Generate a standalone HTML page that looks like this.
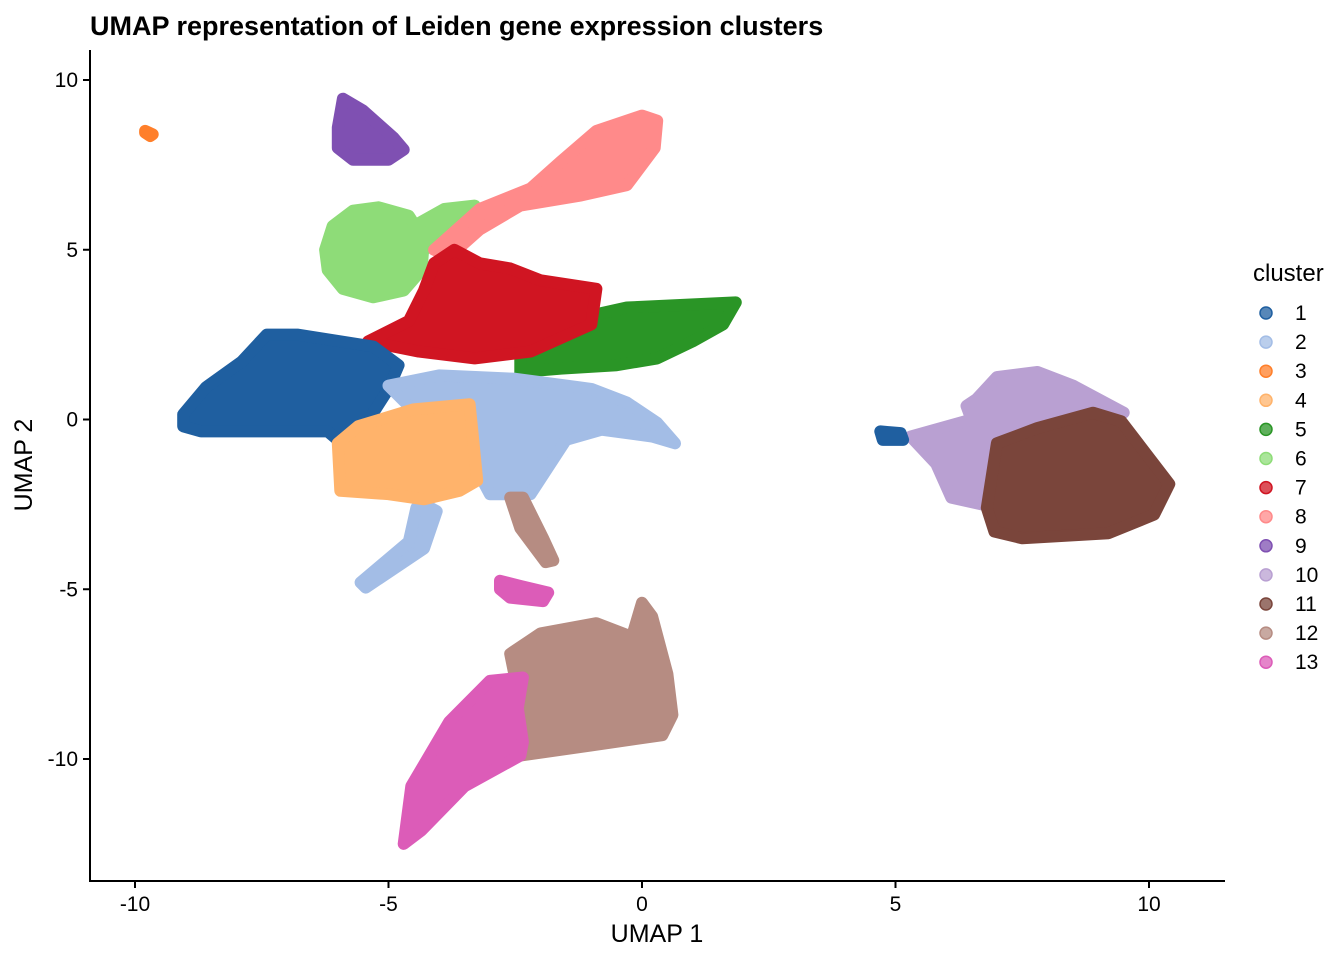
<!DOCTYPE html>
<html><head><meta charset="utf-8"><style>
html,body{margin:0;padding:0;background:#fff;}
svg{display:block;font-family:"Liberation Sans",Arial,sans-serif;}
</style></head><body>
<svg id="chart" width="1344" height="960" viewBox="0 0 1344 960">
<text x="90" y="35" font-size="27" font-weight="bold" fill="#000">UMAP representation of Leiden gene expression clusters</text>
<g id="clusters"></g>
<g id="axes"></g>
<g id="legend"></g>
</svg>
<script>
const clusterNames = ["1","2","3","4","5","6","7","8","9","10","11","12","13"];
const clusterColors = ["#1f5fa0","#a3bde6","#ff7f2a","#ffb36b","#2a9526","#8edc78","#d01522","#ff8a8a","#7f50b2","#b9a0d2","#7a453b","#b68c82","#dc5cb8"];
const xTicks = [-10,-5,0,5,10];
const yTicks = [10,5,0,-5,-10];
// cluster outlines in UMAP data coordinates; [clusterIndex, polygon]
const regions = [
 [5, [[-6.25,5.0],[-6.1,5.7],[-5.7,6.15],[-5.2,6.25],[-4.6,6.0],[-4.3,5.3],[-4.35,4.4],[-4.7,3.8],[-5.3,3.6],[-5.9,3.85],[-6.2,4.4]]],
 [5, [[-4.5,5.7],[-3.9,6.2],[-3.3,6.3],[-3.5,5.7],[-4.3,5.0]]],
 [7, [[-4.1,5.0],[-3.2,6.2],[-2.2,6.8],[-1.6,7.6],[-0.9,8.5],[0.0,8.95],[0.3,8.8],[0.25,8.0],[-0.3,6.9],[-1.2,6.6],[-2.4,6.3],[-3.2,5.6],[-3.8,4.8]]],
 [8, [[-6.0,8.6],[-5.9,9.45],[-5.5,9.1],[-4.9,8.3],[-4.7,7.95],[-5.0,7.65],[-5.7,7.65],[-6.0,8.0]]],
 [2, [[-9.8,8.5],[-9.65,8.4],[-9.7,8.35],[-9.8,8.45]]],
 [4, [[-2.4,2.0],[-1.2,3.0],[-0.3,3.3],[1.85,3.45],[1.6,2.8],[1.0,2.3],[0.3,1.8],[-0.5,1.6],[-1.6,1.5],[-2.4,1.4]]],
 [6, [[-4.3,3.8],[-4.1,4.6],[-3.7,5.0],[-3.2,4.6],[-2.6,4.45],[-2.0,4.1],[-0.9,3.85],[-1.0,2.8],[-2.2,2.0],[-3.3,1.8],[-4.4,2.0],[-5.4,2.3],[-4.6,2.9]]],
 [0, [[-9.05,0.15],[-8.6,0.95],[-7.9,1.7],[-7.4,2.5],[-6.8,2.5],[-5.3,2.15],[-4.8,1.6],[-5.0,0.9],[-5.3,0.2],[-5.6,-0.6],[-6.0,-0.6],[-6.2,-0.35],[-8.7,-0.35],[-9.05,-0.2]]],
 [1, [[-5.0,1.0],[-4.0,1.3],[-2.5,1.2],[-1.0,0.9],[-0.3,0.5],[0.3,-0.1],[0.65,-0.7],[0.2,-0.5],[-0.8,-0.3],[-1.5,-0.6],[-2.2,-2.2],[-3.0,-2.2],[-3.5,-0.8],[-3.9,0.2],[-4.6,0.4]]],
 [1, [[-4.3,-2.5],[-4.05,-2.7],[-4.3,-3.8],[-5.45,-4.95],[-5.55,-4.8],[-4.6,-3.6],[-4.45,-2.6]]],
 [3, [[-6.0,-0.7],[-5.6,-0.2],[-4.5,0.3],[-3.4,0.45],[-3.35,-0.3],[-3.25,-1.8],[-3.6,-2.1],[-4.3,-2.35],[-5.0,-2.2],[-5.95,-2.1]]],
 [11, [[-2.6,-2.3],[-2.35,-2.3],[-1.95,-3.5],[-1.75,-4.15],[-1.9,-4.2],[-2.4,-3.2]]],
 [11, [[-2.6,-6.9],[-2.0,-6.3],[-0.9,-6.0],[-0.2,-6.4],[0.0,-5.4],[0.2,-5.8],[0.5,-7.5],[0.6,-8.7],[0.4,-9.3],[-1.0,-9.6],[-2.4,-9.9],[-2.45,-8.0]]],
 [12, [[-4.7,-12.5],[-4.55,-10.8],[-3.8,-8.9],[-3.0,-7.7],[-2.35,-7.6],[-2.45,-8.5],[-2.35,-9.5],[-2.4,-9.9],[-3.5,-10.8],[-4.35,-12.1]]],
 [12, [[-2.8,-4.75],[-2.4,-4.9],[-1.85,-5.1],[-1.95,-5.35],[-2.6,-5.25],[-2.8,-5.0]]],
 [9, [[5.3,-0.5],[6.5,0.0],[6.4,0.4],[6.6,0.6],[7.0,1.25],[7.8,1.4],[8.5,1.0],[9.5,0.2],[8.0,-1.0],[6.7,-2.5],[6.1,-2.3],[5.8,-1.3]]],
 [10, [[6.8,-2.6],[7.0,-0.7],[7.8,-0.25],[8.9,0.2],[9.45,-0.05],[10.4,-1.9],[10.1,-2.8],[9.2,-3.35],[7.5,-3.5],[6.95,-3.3]]],
 [0, [[4.7,-0.35],[5.1,-0.4],[5.15,-0.6],[4.75,-0.6]]]
];
const X0=-10, X1=10, PX0=135, PX1=1149;
const Y0=10, Y1=-10, PY0=80, PY1=759;
function sx(v){return PX0+(v-X0)*(PX1-PX0)/(X1-X0);}
function sy(v){return PY0+(v-Y0)*(PY1-PY0)/(Y1-Y0);}
const NS="http://www.w3.org/2000/svg";
const gC=document.getElementById('clusters');
regions.forEach(r=>{
  const p=document.createElementNS(NS,'polygon');
  p.setAttribute('points',r[1].map(q=>sx(q[0]).toFixed(1)+','+sy(q[1]).toFixed(1)).join(' '));
  p.setAttribute('fill',clusterColors[r[0]]);
  p.setAttribute('stroke',clusterColors[r[0]]);
  p.setAttribute('stroke-width','12');
  p.setAttribute('stroke-linejoin','round');
  
  
  gC.appendChild(p);
});
const gA=document.getElementById('axes');
function add(parent,tag,attrs,text){const e=document.createElementNS(NS,tag);for(const k in attrs)e.setAttribute(k,attrs[k]);if(text!==undefined)e.textContent=text;parent.appendChild(e);return e;}
const xl=add(gA,'line',{x1:90,y1:881,x2:1225,y2:881,stroke:'#000','stroke-width':2});


const yl=add(gA,'line',{x1:90,y1:50,x2:90,y2:882,stroke:'#000','stroke-width':2});


xTicks.forEach(t=>{
  add(gA,'line',{x1:sx(t),y1:881,x2:sx(t),y2:888,stroke:'#000','stroke-width':2});
  const tx=add(gA,'text',{x:sx(t),y:911,'font-size':21,'text-anchor':'middle',fill:'#000'},String(t));
  
  
});
yTicks.forEach(t=>{
  add(gA,'line',{x1:83,y1:sy(t),x2:90,y2:sy(t),stroke:'#000','stroke-width':2});
  const ty=add(gA,'text',{x:78,y:sy(t)+7,'font-size':21,'text-anchor':'end',fill:'#000'},String(t));
  
  
});
const xt=add(gA,'text',{x:657,y:942,'font-size':25,'text-anchor':'middle',fill:'#000'},'UMAP 1');


const yt=add(gA,'text',{x:0,y:0,'font-size':25,'text-anchor':'middle',fill:'#000',transform:'translate(32,465) rotate(-90)'},'UMAP 2');


const gL=document.getElementById('legend');
const lt=add(gL,'text',{x:1253,y:281,'font-size':24,fill:'#000'},'cluster');


clusterNames.forEach((n,i)=>{
  const y=313+i*29.1;
  const g=add(gL,'g',{});
  
  
  add(g,'circle',{cx:1266,cy:y,r:6,fill:clusterColors[i],'fill-opacity':0.75,stroke:clusterColors[i],'stroke-width':1.5});
  add(g,'text',{x:1295,y:y+7,'font-size':21,fill:'#000'},n);
});
</script>
</body></html>
